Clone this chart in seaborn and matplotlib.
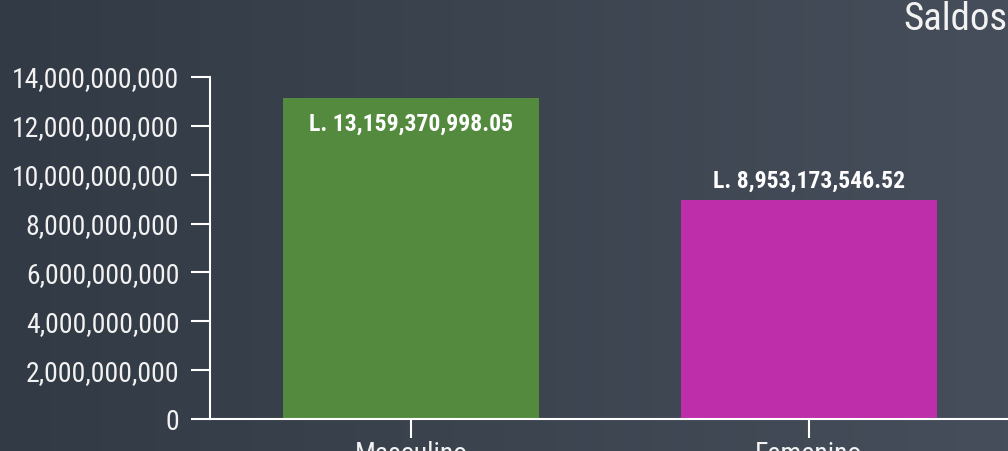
import matplotlib
matplotlib.use("Agg")
import matplotlib.pyplot as plt
import matplotlib.ticker as mticker
from matplotlib import font_manager
from matplotlib.colors import LinearSegmentedColormap
import numpy as np
import pandas as pd
import seaborn as sns

categories = ["Masculino", "Femenino"]
saldos = [13159370998.05, 8953173546.52]
bar_colors = ["#538A3E", "#BE2EAA"]
y_ticks = [0, 2e9, 4e9, 6e9, 8e9, 10e9, 12e9, 14e9]

sns.set_theme(style="white")

installed = {f.name for f in font_manager.fontManager.ttflist}
family = "Roboto"
for cand in ["Roboto Condensed", "Liberation Sans Narrow", "Roboto"]:
    if cand in installed:
        family = cand
        break
plt.rcParams["font.family"] = [family, "DejaVu Sans"]

txt = "#F2F2F2"
df = pd.DataFrame({"genero": categories, "saldo": saldos})

fig = plt.figure(figsize=(10.08, 4.51), dpi=100)

# gradient background
bg = fig.add_axes([0, 0, 1, 1], zorder=-10)
grad = np.linspace(0, 1, 256).reshape(1, -1)
cmap = LinearSegmentedColormap.from_list("bg", ["#323A45", "#454E5A"])
bg.imshow(grad, aspect="auto", cmap=cmap, extent=[0, 1, 0, 1])
bg.axis("off")

ax = fig.add_axes([210 / 1008, 32 / 451, 800 / 1008, 342 / 451])
ax.set_facecolor("none")

sns.barplot(data=df, x="genero", y="saldo", hue="genero",
            palette=bar_colors, width=0.643, legend=False,
            saturation=1, linewidth=0, ax=ax)

ax.set_xlim(-0.505, 1.505)
ax.set_ylim(0, 14e9)
ax.set_yticks(y_ticks)
ax.yaxis.set_major_formatter(mticker.FuncFormatter(lambda v, p: f"{v:,.0f}"))

for side in ["top", "right"]:
    ax.spines[side].set_visible(False)
for side in ["left", "bottom"]:
    ax.spines[side].set_color("white")
    ax.spines[side].set_linewidth(1.5)

ax.tick_params(axis="both", colors="white", width=1.5, length=14,
               labelcolor=txt, labelsize=20, direction="out",
               left=True, bottom=True)
ax.tick_params(axis="y", pad=8)
ax.tick_params(axis="x", pad=2)
ax.set_xlabel("")
ax.set_ylabel("")

# value labels
ax.text(0, saldos[0] - 0.62e9, f"L. {saldos[0]:,.2f}", ha="center",
        va="top", color="white", fontsize=17, fontweight="bold")
ax.text(1, saldos[1] + 0.3e9, f"L. {saldos[1]:,.2f}", ha="center",
        va="bottom", color="white", fontsize=17, fontweight="bold")

fig.text(903 / 1008, 1 - 20 / 451, "Saldos", ha="left", va="center",
         color=txt, fontsize=28)

fig.savefig("out.png", dpi=100)
